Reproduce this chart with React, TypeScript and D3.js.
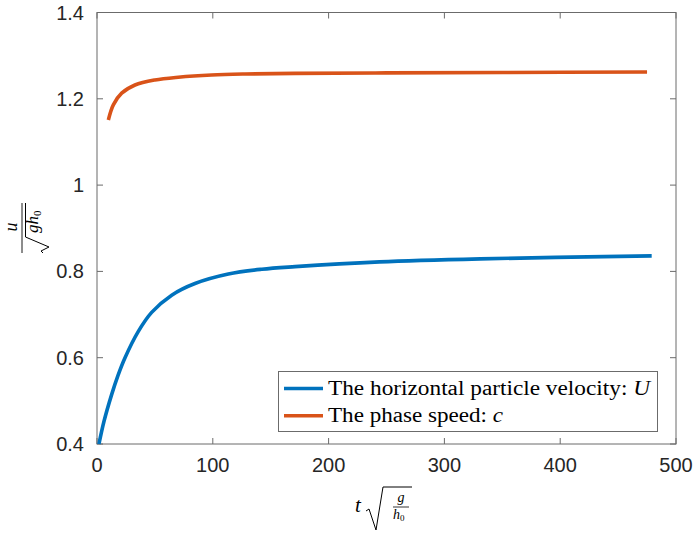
import React from "react";
import * as d3 from "d3";

const xTicks = [0, 100, 200, 300, 400, 500];
const yTicks = [0.4, 0.6, 0.8, 1.0, 1.2, 1.4];
const yTickLabels = ["0.4", "0.6", "0.8", "1", "1.2", "1.4"];

const blueT = [1.7, 6, 12.7, 18, 24.2, 35.7, 47.2, 64.5, 84.6, 113.4, 142.2, 171, 244, 331, 479];
const blueV = [0.4, 0.452, 0.515, 0.558, 0.6, 0.661, 0.705, 0.745, 0.772, 0.794, 0.805, 0.811, 0.822, 0.829, 0.836];

const orangeT = [9.8, 14.1, 21.3, 32.8, 50, 70.2, 99, 127.8, 171, 250, 350, 475];
const orangeV = [1.151, 1.186, 1.213, 1.232, 1.2436, 1.25, 1.2552, 1.2575, 1.259, 1.26, 1.261, 1.262];

const legendLabels = ["The horizontal particle velocity: ", "The phase speed: "];
const legendVars = ["U", "c"];

const BLUE = "#0072BD";
const ORANGE = "#D95319";
const AX = "#6b6b6b";

export default function App() {
  const L = 97, R = 676, T = 12.5, B = 444;
  const x = d3.scaleLinear().domain([0, 500]).range([L, R]);
  const y = d3.scaleLinear().domain([0.4, 1.4]).range([B, T]);
  const line = d3
    .line<[number, number]>()
    .x((d) => x(d[0]))
    .y((d) => y(d[1]))
    .curve(d3.curveCatmullRom.alpha(0.5));
  const blue = line(blueT.map((t, i) => [t, blueV[i]]));
  const orange = line(orangeT.map((t, i) => [t, orangeV[i]]));
  const tl = 6;
  const sans = "'Liberation Sans', Arial, sans-serif";
  const serif = "'Liberation Serif', 'DejaVu Serif', serif";
  const legendWidths = [322, 175];

  return (
    <svg
      width={697}
      height={533}
      style={{ position: "absolute", left: 0, top: 0, background: "#fff" }}
    >
      <rect x={0} y={0} width={697} height={533} fill="#fff" />
      <rect x={L} y={T} width={R - L} height={B - T} fill="none" stroke={AX} strokeWidth={1} />
      {xTicks.map((t) => (
        <g key={"xt" + t}>
          <line x1={x(t)} x2={x(t)} y1={B} y2={B - tl} stroke={AX} />
          <line x1={x(t)} x2={x(t)} y1={T} y2={T + tl} stroke={AX} />
          <text x={x(t)} y={472} textAnchor="middle" fontFamily={sans} fontSize={20} fill="#262626">
            {t}
          </text>
        </g>
      ))}
      {yTicks.map((v, i) => (
        <g key={"yt" + v}>
          <line x1={L} x2={L + tl} y1={y(v)} y2={y(v)} stroke={AX} />
          <line x1={R} x2={R - tl} y1={y(v)} y2={y(v)} stroke={AX} />
          <text x={84} y={y(v) + 7} textAnchor="end" fontFamily={sans} fontSize={20} fill="#262626">
            {yTickLabels[i]}
          </text>
        </g>
      ))}
      <path d={blue || ""} fill="none" stroke={BLUE} strokeWidth={3.6} />
      <path d={orange || ""} fill="none" stroke={ORANGE} strokeWidth={3.6} />

      {/* legend */}
      <rect x={278.5} y={371.5} width={379} height={60} fill="#fff" stroke={AX} strokeWidth={1} />
      {[BLUE, ORANGE].map((c, i) => (
        <g key={"lg" + i}>
          <line x1={284} x2={323} y1={388.5 + i * 27.3} y2={388.5 + i * 27.3} stroke={c} strokeWidth={3.6} />
          <text
            x={328}
            y={394.5 + i * 27.3}
            fontFamily={serif}
            fontSize={20}
            fill="#000"
            textLength={legendWidths[i]}
            lengthAdjust="spacingAndGlyphs"
          >
            {legendLabels[i]}
            <tspan fontStyle="italic">{legendVars[i]}</tspan>
          </text>
        </g>
      ))}

      {/* y label */}
      <g transform="translate(22,228) rotate(-90)">
        <text x={1} y={-5} textAnchor="middle" fontFamily={serif} fontStyle="italic" fontSize={18} fill="#000">
          u
        </text>
        <line x1={-25} x2={25} y1={0} y2={0} stroke="#000" strokeWidth={0.9} />
        <path d="M -25 21 L -23 19 L -19 27 L -9 3.5 L 25 3.5" fill="none" stroke="#000" strokeWidth={1} />
        <text x={-5} y={16} fontFamily={serif} fontStyle="italic" fontSize={17} fill="#000">
          gh
          <tspan fontStyle="normal" fontSize={11} dy={3}>0</tspan>
        </text>
      </g>

      {/* x label */}
      <g>
        <text x={355} y={512} fontFamily={serif} fontStyle="italic" fontSize={21} fill="#000">
          t
        </text>
        <path d="M 366 511 L 369 509 L 376 530 L 383 487 L 412 487" fill="none" stroke="#000" strokeWidth={1} />
        <text x={401} y={502} textAnchor="middle" fontFamily={serif} fontStyle="italic" fontSize={14} fill="#000">
          g
        </text>
        <line x1={393} x2={409} y1={507} y2={507} stroke="#000" strokeWidth={0.8} />
        <text x={393} y={519} fontFamily={serif} fontStyle="italic" fontSize={14} fill="#000">
          h<tspan fontStyle="normal" fontSize={9} dy={2}>0</tspan>
        </text>
      </g>
    </svg>
  );
}
